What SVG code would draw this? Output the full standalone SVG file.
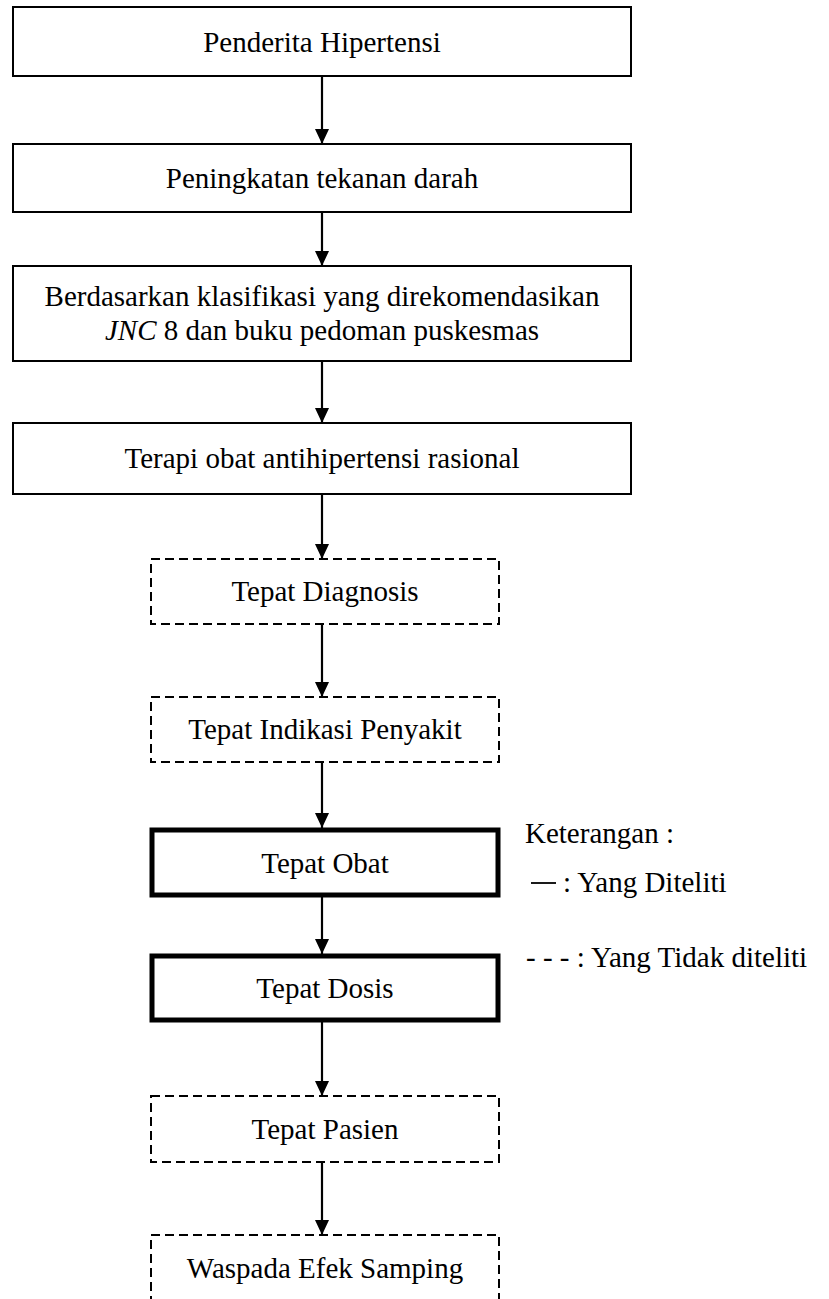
<svg xmlns="http://www.w3.org/2000/svg" width="829" height="1299" viewBox="0 0 829 1299">
<style>
text{font-family:'Liberation Serif','DejaVu Serif',serif;font-size:29px;fill:#000}
.c{text-anchor:middle}
.solid{fill:#fff;stroke:#000;stroke-width:2}
.dash{fill:#fff;stroke:#000;stroke-width:2;stroke-dasharray:9 5}
.thick{fill:#fff;stroke:#000;stroke-width:5}
.conn{stroke:#000;stroke-width:2.2;fill:none;marker-end:url(#ah)}
</style>
<defs>
<marker id="ah" markerUnits="userSpaceOnUse" markerWidth="16" markerHeight="14" refX="15" refY="7" orient="auto" viewBox="0 0 16 14">
<path d="M0,0 L15,7 L0,14 Z" fill="#000"/>
</marker>
</defs>
<g id="connectors">
<line class="conn" x1="322" y1="76" x2="322" y2="144"/>
<line class="conn" x1="322" y1="212" x2="322" y2="266"/>
<line class="conn" x1="322" y1="361" x2="322" y2="423"/>
<line class="conn" x1="322" y1="494" x2="322" y2="559"/>
<line class="conn" x1="322" y1="624" x2="322" y2="697"/>
<line class="conn" x1="322" y1="762" x2="322" y2="828"/>
<line class="conn" x1="322" y1="896" x2="322" y2="954"/>
<line class="conn" x1="322" y1="1021" x2="322" y2="1096"/>
<line class="conn" x1="322" y1="1162" x2="322" y2="1235"/>
</g>
<g id="n1"><rect class="solid" x="13" y="7" width="618" height="69"/><text class="c" x="322" y="52">Penderita Hipertensi</text></g>
<g id="n2"><rect class="solid" x="13" y="144" width="618" height="68"/><text class="c" x="322" y="188">Peningkatan tekanan darah</text></g>
<g id="n3"><rect class="solid" x="13" y="266" width="618" height="95"/><text class="c" x="322" y="306">Berdasarkan klasifikasi yang direkomendasikan</text><text class="c" x="322" y="340"><tspan font-style="italic">JNC</tspan> 8 dan buku pedoman puskesmas</text></g>
<g id="n4"><rect class="solid" x="13" y="423" width="618" height="71"/><text class="c" x="322" y="468">Terapi obat antihipertensi rasional</text></g>
<g id="n5"><rect class="dash" x="151" y="559" width="348" height="65"/><text class="c" x="325" y="601">Tepat Diagnosis</text></g>
<g id="n6"><rect class="dash" x="151" y="697" width="348" height="65"/><text class="c" x="325" y="739">Tepat Indikasi Penyakit</text></g>
<g id="n7"><rect class="thick" x="152" y="830" width="346" height="65"/><text class="c" x="325" y="873">Tepat Obat</text></g>
<g id="n8"><rect class="thick" x="152" y="956" width="346" height="64"/><text class="c" x="325" y="998">Tepat Dosis</text></g>
<g id="n9"><rect class="dash" x="151" y="1096" width="348" height="66"/><text class="c" x="325" y="1139">Tepat Pasien</text></g>
<g id="n10"><rect class="dash" x="151" y="1235" width="348" height="100"/><text class="c" x="325" y="1278">Waspada Efek Samping</text></g>
<g id="legend">
<text x="525" y="843">Keterangan :</text>
<line x1="531" y1="883" x2="556" y2="883" stroke="#000" stroke-width="1.8"/>
<text x="563" y="892">: Yang Diteliti</text>
<text x="526" y="967">- - - : Yang Tidak diteliti</text>
</g>
</svg>
